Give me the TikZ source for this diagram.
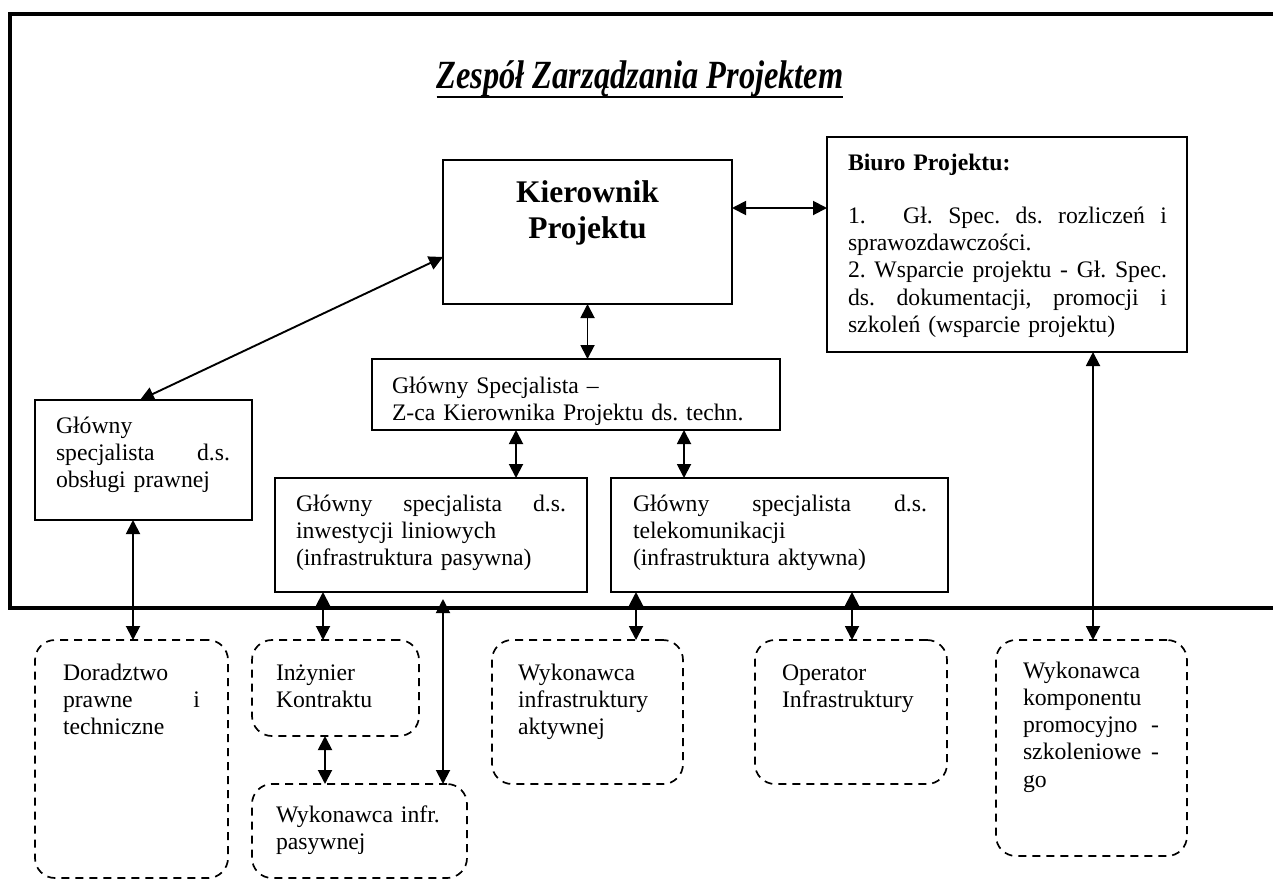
\documentclass[tikz,border=0pt]{standalone}
\usepackage{fontspec}
\setmainfont{Liberation Serif}
\usetikzlibrary{arrows.meta,calc}
\frenchspacing
\newcommand{\tx}{\fontsize{23.7}{27.3}\selectfont\parindent=0pt\frenchspacing}
\newcommand{\kx}{\fontsize{31.5}{36}\selectfont\bfseries\parindent=0pt}
\newcommand{\st}{\rule{0pt}{20pt}}
\newcommand{\kst}{\rule{0pt}{26pt}}
\begin{document}
\begin{tikzpicture}[x=1pt,y=-1pt,
  box/.style={draw, line width=1.6pt, anchor=north west, inner sep=0pt, outer sep=0pt},
  dbox/.style={draw, line width=1.7pt, dash pattern=on 8pt off 6pt, rounded corners=20pt, anchor=north west, inner sep=0pt, outer sep=0pt},
  txt/.style={anchor=north west, inner sep=0pt, outer sep=0pt, font=\tx, align=left},
  arr/.style={{Triangle[length=14pt,width=14pt]}-{Triangle[length=14pt,width=14pt]}, line width=1.9pt}]
\useasboundingbox (0,0) rectangle (1273,879);
\fill[white] (0,0) rectangle (1273,879);
% frame
\draw[line width=4.2pt] (1273,14) -- (10,14) -- (10,608) -- (1273,608);
% title
\node[inner sep=0pt, outer sep=0pt, anchor=base] (title) at (640,88)
  {\scalebox{0.81}[1]{\fontsize{40}{44}\selectfont\bfseries\itshape Zespół Zarządzania Projektem}};
\draw[line width=2.6pt] ([yshift=-9pt]title.base west) -- ([yshift=-9pt]title.base east);
% boxes
\node[box, minimum width=289pt, minimum height=144pt] (kp) at (443,160) {};
\node[box, minimum width=360pt, minimum height=215pt] (biuro) at (827,137) {};
\node[box, minimum width=408pt, minimum height=71pt] (zca) at (372,359) {};
\node[box, minimum width=217pt, minimum height=120pt] (obs) at (35,400) {};
\node[box, minimum width=312pt, minimum height=114pt] (inw) at (275,478) {};
\node[box, minimum width=337pt, minimum height=114pt] (tel) at (611,478) {};
% dashed boxes
\node[dbox, minimum width=193pt, minimum height=238pt] (dor) at (35,640) {};
\node[dbox, minimum width=167pt, minimum height=96pt] (ink) at (252,640) {};
\node[dbox, minimum width=215pt, minimum height=94pt] (pas) at (252,784) {};
\node[dbox, minimum width=191pt, minimum height=144pt] (akt) at (492,640) {};
\node[dbox, minimum width=192pt, minimum height=144pt] (op) at (755,640) {};
\node[dbox, minimum width=191pt, minimum height=216pt] (kom) at (996,640) {};
% texts
\node[anchor=north, inner sep=0pt, outer sep=0pt, font=\kx, text width=280pt, align=center] (kpt) at (587.5,176) {\kst Kierownik\\Projektu};
\node[txt, text width=319pt] (biurot) at (848,150) {\st\textbf{Biuro Projektu:}\\[26pt]1.\hspace{22pt}\hfill Gł.\hfill Spec.\hfill ds.\hfill rozliczeń\hfill i\\sprawozdawczości.\\2.\hfill Wsparcie\hfill projektu\hfill -\hfill Gł.\hfill Spec.\\ds.\hfill dokumentacji,\hfill promocji\hfill i\\szkoleń (wsparcie projektu)};
\node[txt, text width=385pt] (zcat) at (392,373) {\st Główny Specjalista –\\Z-ca Kierownika Projektu ds. techn.};
\node[txt, text width=174pt] (obst) at (56,413) {\st Główny\\specjalista\hfill d.s.\\obsługi prawnej};
\node[txt, text width=270pt] (inwt) at (296,491) {\st Główny\hfill specjalista\hfill d.s.\\inwestycji liniowych\\(infrastruktura pasywna)};
\node[txt, text width=294pt] (telt) at (633,491) {\st Główny\hfill specjalista\hfill d.s.\\telekomunikacji\\(infrastruktura aktywna)};
\node[txt, text width=137pt] (dort) at (63,660) {\st Doradztwo\\prawne\hfill i\\techniczne};
\node[txt, text width=140pt] (inkt) at (276,660) {\st Inżynier\\Kontraktu};
\node[txt, text width=185pt] (past) at (276,802) {\st Wykonawca infr.\\pasywnej};
\node[txt, text width=160pt] (aktt) at (518,660) {\st Wykonawca\\infrastruktury\\aktywnej};
\node[txt, text width=160pt] (opt) at (782,660) {\st Operator\\Infrastruktury};
\node[txt, text width=136pt] (komt) at (1023,658) {\st Wykonawca\\komponentu\\promocyjno\hfill -\\szkoleniowe\hfill -\\go};
% connectors
\draw[arr] ([yshift=-48pt]kp.north east) -- ([yshift=-48pt]kp.north east -| biuro.west);
\draw[arr] ([yshift=-97pt]kp.north west) -- ([xshift=105pt]obs.north west);
\draw[arr] (kp.south) -- (kp.south |- zca.north);
\draw[arr] ([xshift=144pt]zca.south west) -- ([xshift=144pt]zca.south west |- inw.north);
\draw[arr] ([xshift=312pt]zca.south west) -- ([xshift=312pt]zca.south west |- tel.north);
\draw[arr] ([xshift=98pt]obs.south west) -- ([xshift=98pt]obs.south west |- dor.north);
\draw[arr] ([xshift=48pt]inw.south west) -- ([xshift=48pt]inw.south west |- ink.north);
\draw[arr] ([xshift=168pt,yshift=-7pt]inw.south west) -- ([xshift=168pt]inw.south west |- pas.north);
\draw[arr] ([xshift=25pt]tel.south west) -- ([xshift=25pt]tel.south west |- akt.north);
\draw[arr] ([xshift=241pt]tel.south west) -- ([xshift=241pt]tel.south west |- op.north);
\draw[arr] ([xshift=73pt]ink.south west) -- ([xshift=73pt]ink.south west |- pas.north);
\draw[arr] ([xshift=266pt]biuro.south west) -- ([xshift=266pt]biuro.south west |- kom.north);
\end{tikzpicture}
\end{document}
